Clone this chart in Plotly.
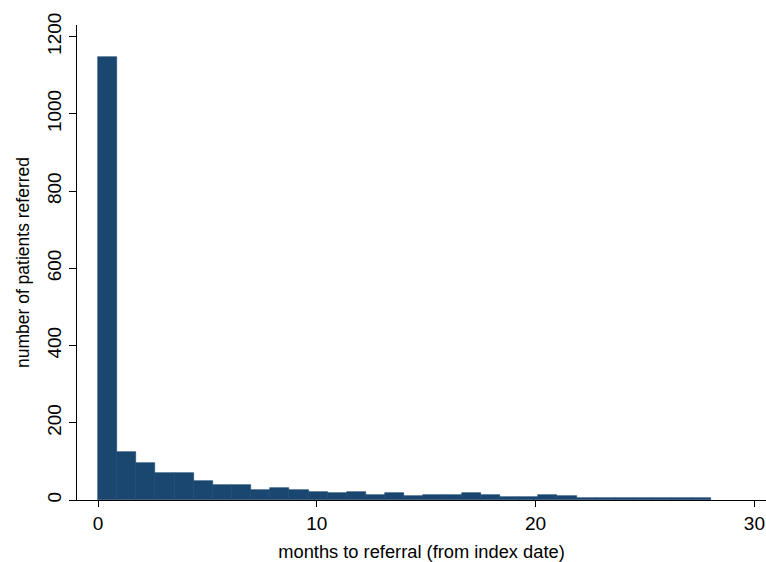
import plotly.graph_objects as go

# Histogram data (bins of 0.875 months starting at 0)
bin_start = 0.0
bin_width = 0.875
counts = [1148, 124, 95, 69, 69, 49, 40, 40, 26, 32, 26, 22, 18, 20, 13, 19,
          10, 14, 14, 19, 14, 9, 9, 14, 10, 5, 5, 5, 5, 5, 5, 5]
x_ticks = [0, 10, 20, 30]
y_ticks = [0, 200, 400, 600, 800, 1000, 1200]

left_edges = [bin_start + i * bin_width for i in range(len(counts))]

fig = go.Figure(go.Bar(
    x=left_edges, y=counts, width=[bin_width] * len(counts), offset=0,
    marker=dict(color="#1a476f", line=dict(width=0.6, color="#1a476f")),
))

font_family = "Liberation Sans, Arial, sans-serif"
fig.update_layout(
    width=766, height=562,
    margin=dict(l=77, r=0, t=25, b=62),
    paper_bgcolor="white", plot_bgcolor="white",
    showlegend=False, bargap=0,
    font=dict(family=font_family, color="black"),
)
fig.update_xaxes(
    automargin=False,
    range=[-0.96, 30.53], tickvals=x_ticks, ticktext=[str(v) for v in x_ticks],
    showgrid=False, zeroline=False, showline=True, linecolor="black", linewidth=1.4,
    ticks="outside", ticklen=6, tickwidth=1.4, tickcolor="black",
    tickfont=dict(size=19),
    title=dict(text="months to referral (from index date)", font=dict(size=18.3), standoff=12),
)
fig.update_yaxes(
    automargin=False,
    range=[0, 1230], tickvals=y_ticks, ticktext=[str(v) for v in y_ticks],
    showgrid=False, zeroline=False, showline=True, linecolor="black", linewidth=1.4,
    ticks="outside", ticklen=7, tickwidth=1.4, tickcolor="black",
    tickangle=-90, tickfont=dict(size=19),
    title=dict(text="number of patients referred", font=dict(size=17.5), standoff=10),
)

fig.write_html(
    "out.html",
    config={"displayModeBar": False},
    post_script="document.body.style.margin='0';document.body.style.overflow='hidden';",
)
